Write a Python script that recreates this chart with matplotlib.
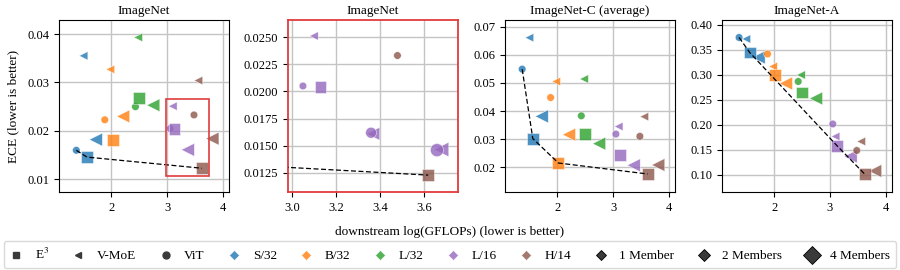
import matplotlib
matplotlib.use("Agg")
import matplotlib.pyplot as plt
from matplotlib.lines import Line2D
from matplotlib.patches import Rectangle

plt.rcParams['font.family'] = ['Liberation Serif', 'DejaVu Serif']
plt.rcParams['mathtext.fontset'] = 'stix'

models = ['S/32', 'B/32', 'L/32', 'L/16', 'H/14']
colors = ['#1f77b4', '#ff7f0e', '#2ca02c', '#9467bd', '#8c564b']

# downstream log(GFLOPs), one value per model size
x_vit = [1.37, 1.88, 2.43, 3.05, 3.48]
x_vmoe1 = [1.50, 1.98, 2.48, 3.10, 3.56]
x_vmoe2 = [1.72, 2.21, 2.75, 3.37, 3.81]
x_e3 = [1.56, 2.02, 2.50, 3.13, 3.62]

# ECE on ImageNet
inet_vit = [0.0160, 0.0223, 0.0250, 0.0205, 0.0233]
inet_vmoe1 = [0.0355, 0.0327, 0.0393, 0.0251, 0.0304]
inet_vmoe2 = [0.0182, 0.0230, 0.0253, 0.0161, 0.0184]
inet_e3 = [0.0146, 0.0182, 0.0267, 0.0204, 0.0123]

# extra L/16 ensembles shown only in the zoomed panel
zoom_vit_x = [3.36, 3.66]
zoom_vit_y = [0.0162, 0.0146]
zoom_vit_members = [2, 4]
zoom_vmoe_x = [3.68]
zoom_vmoe_y = [0.0147]
zoom_vmoe_members = [4]

# ECE on ImageNet-C (average)
inc_vit = [0.0549, 0.0448, 0.0383, 0.0318, 0.0310]
inc_vmoe1 = [0.0661, 0.0505, 0.0514, 0.0345, 0.0380]
inc_vmoe2 = [0.0381, 0.0316, 0.0284, 0.0207, 0.0208]
inc_e3 = [0.0302, 0.0215, 0.0318, 0.0244, 0.0176]

# ECE on ImageNet-A
ina_vit = [0.375, 0.342, 0.287, 0.202, 0.149]
ina_vmoe1 = [0.372, 0.317, 0.300, 0.177, 0.167]
ina_vmoe2 = [0.335, 0.283, 0.253, 0.137, 0.108]
ina_e3 = [0.345, 0.300, 0.265, 0.158, 0.102]

# marker areas per ensemble size
circle_size = {1: 30, 2: 62, 4: 90}
tri_size = {1: 38, 2: 88, 4: 110}
square_size = 74


def lower_hull(xs, ys):
    pts = sorted(zip(xs, ys))
    hull = []
    for p in pts:
        while len(hull) >= 2:
            o, a = hull[-2], hull[-1]
            cr = (a[0]-o[0])*(p[1]-o[1]) - (a[1]-o[1])*(p[0]-o[0])
            if cr <= 0:
                hull.pop()
            else:
                break
        hull.append(p)
    return hull


kw = dict(alpha=0.8, edgecolors='white', linewidths=0.4)


def draw(ax, vit, vmoe1, vmoe2, e3):
    ax.scatter(x_vmoe1, vmoe1, c=colors, marker='<', s=tri_size[1], zorder=3, **kw)
    ax.scatter(x_vmoe2, vmoe2, c=colors, marker='<', s=tri_size[2], zorder=3, **kw)
    ax.scatter(x_vit, vit, c=colors, marker='o', s=circle_size[1], zorder=4, **kw)
    ax.scatter(x_e3, e3, c=colors, marker='s', s=square_size, zorder=4, **kw)
    front = lower_hull(x_vit + x_e3, vit + e3)
    ax.plot([p[0] for p in front], [p[1] for p in front], 'k--', lw=0.9,
            dashes=(4, 2), zorder=5)
    ax.grid(True, color='#c4c4c4', lw=1)
    ax.set_axisbelow(True)
    ax.tick_params(labelsize=9, length=3.5)


fig = plt.figure(figsize=(9, 2.7), dpi=100)
ax1 = fig.add_axes([0.0656, 0.289, 0.189, 0.637])
ax2 = fig.add_axes([0.320, 0.289, 0.189, 0.637])
ax3 = fig.add_axes([0.561, 0.289, 0.189, 0.637])
ax4 = fig.add_axes([0.802, 0.289, 0.189, 0.637])

draw(ax1, inet_vit, inet_vmoe1, inet_vmoe2, inet_e3)
ax1.set_xlim(1.06, 4.11)
ax1.set_ylim(0.0074, 0.0429)
ax1.set_yticks([0.01, 0.02, 0.03, 0.04])
ax1.set_title('ImageNet', fontsize=9.5, pad=4)

# zoomed view
draw(ax2, inet_vit, inet_vmoe1, inet_vmoe2, inet_e3)
ax2.scatter(zoom_vmoe_x, zoom_vmoe_y, c=colors[3], marker='<',
            s=[tri_size[m] for m in zoom_vmoe_members], zorder=3, **kw)
ax2.scatter(zoom_vit_x, zoom_vit_y, c=colors[3], marker='o',
            s=[circle_size[m] for m in zoom_vit_members], zorder=4, **kw)
zx = (2.982, 3.756)
zy = (0.01075, 0.02657)
ax2.set_xlim(*zx)
ax2.set_ylim(*zy)
ax2.set_xticks([3.0, 3.2, 3.4, 3.6])
ax2.set_yticks([0.0125, 0.015, 0.0175, 0.02, 0.0225, 0.025])
ax2.yaxis.set_major_formatter(plt.FormatStrFormatter('%.4f'))
ax2.set_title('ImageNet', fontsize=9.5, pad=4)
for sp in ax2.spines.values():
    sp.set_color('#e03c3c')
    sp.set_linewidth(1.3)
ax1.add_patch(Rectangle((zx[0], zy[0]), zx[1]-zx[0], zy[1]-zy[0], fill=False,
                        ec='#e03c3c', lw=1.2, zorder=6))

draw(ax3, inc_vit, inc_vmoe1, inc_vmoe2, inc_e3)
ax3.set_xlim(1.06, 4.11)
ax3.set_ylim(0.0112, 0.0724)
ax3.set_yticks([0.02, 0.03, 0.04, 0.05, 0.06, 0.07])
ax3.set_title('ImageNet-C (average)', fontsize=9.5, pad=4)

draw(ax4, ina_vit, ina_vmoe1, ina_vmoe2, ina_e3)
ax4.set_xlim(1.06, 4.11)
ax4.set_ylim(0.066, 0.41)
ax4.set_yticks([0.10, 0.15, 0.20, 0.25, 0.30, 0.35, 0.40])
ax4.yaxis.set_major_formatter(plt.FormatStrFormatter('%.2f'))
ax4.set_title('ImageNet-A', fontsize=9.5, pad=4)

for ax in (ax1, ax3, ax4):
    ax.set_xticks([2, 3, 4])

fig.text(0.5, 0.141, 'downstream log(GFLOPs) (lower is better)', ha='center', va='center', fontsize=9.5)
fig.text(0.0144, 0.607, 'ECE (lower is better)', ha='center', va='center', rotation=90, fontsize=9.5)

dark = '#3a3a3a'
handles = [
    Line2D([], [], marker='s', color=dark, ls='', ms=5),
    Line2D([], [], marker='<', color=dark, ls='', ms=5),
    Line2D([], [], marker='o', color=dark, ls='', ms=5),
]
labels = ['E$^3$', 'V-MoE', 'ViT']
for m, c in zip(models, colors):
    handles.append(Line2D([], [], marker='D', color=c, ls='', ms=5, mec='white', mew=0.5, alpha=0.8))
    labels.append(m)
for m, ms in zip([1, 2, 4], [5.1, 6.6, 8.7]):
    handles.append(Line2D([], [], marker='D', color=dark, ls='', ms=ms, mec='black', mew=0.6))
    labels.append('1 Member' if m == 1 else '%d Members' % m)

fig.legend(handles, labels, ncol=11, loc='lower left', mode='expand',
           bbox_to_anchor=(0.004, 0.006, 0.992, 0.09), fontsize=9.5,
           handletextpad=0.9, borderpad=0.45, borderaxespad=0, frameon=True,
           fancybox=True, edgecolor='#d0d0d0', handlelength=1.0)

fig.savefig('out.png', dpi=100)
